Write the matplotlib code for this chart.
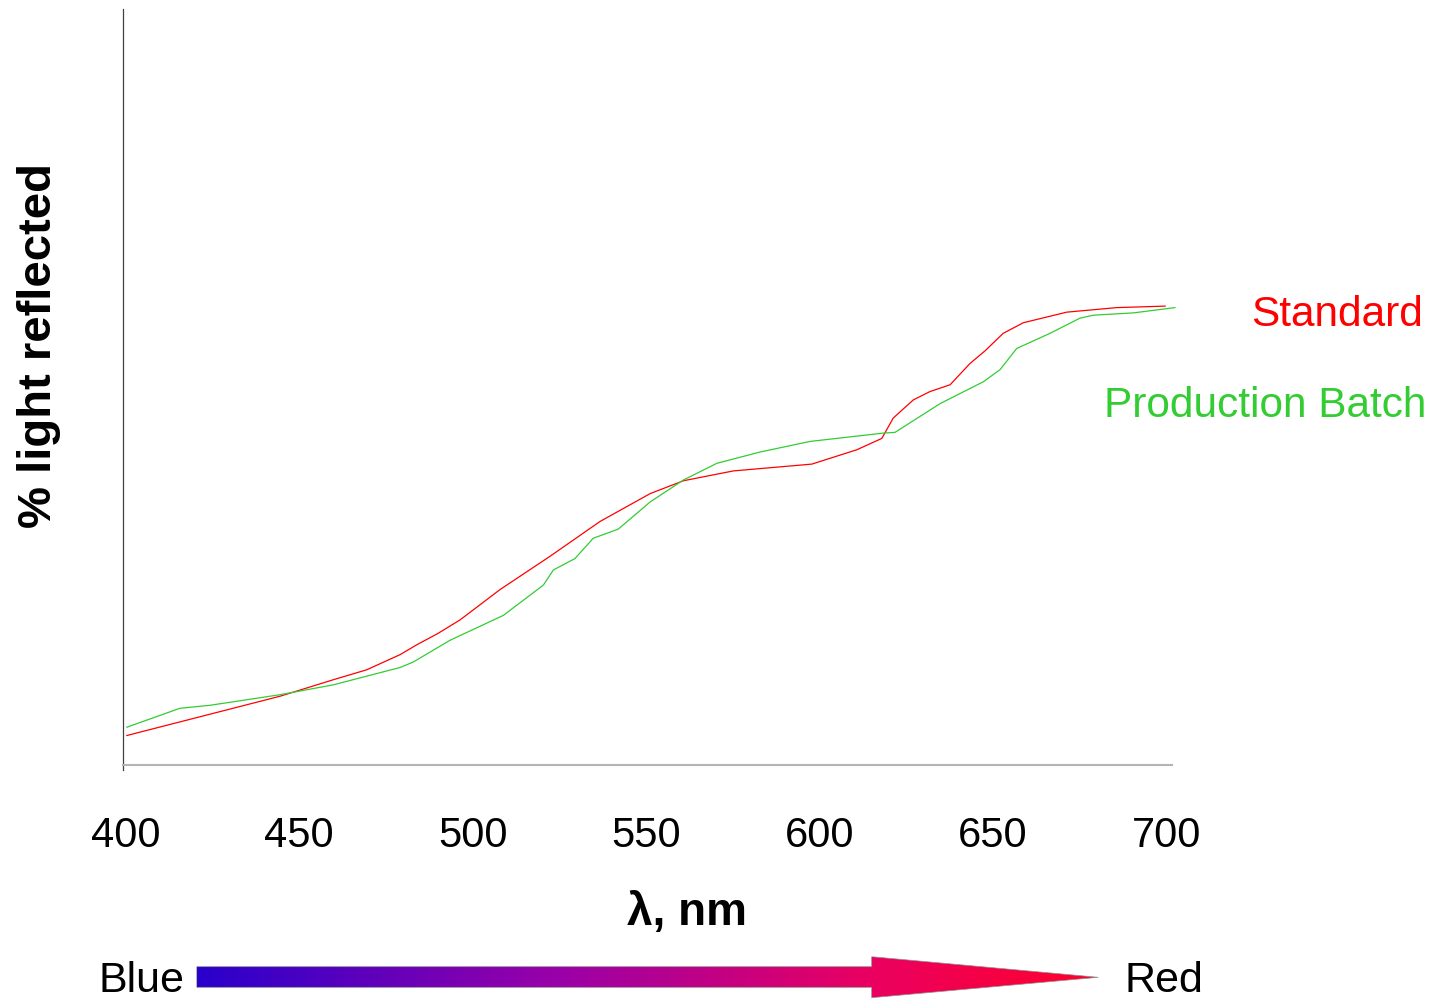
import matplotlib.pyplot as plt
import numpy as np
from matplotlib.patches import Polygon
from matplotlib.colors import LinearSegmentedColormap

plt.rcParams['font.family'] = ['Liberation Sans', 'DejaVu Sans']

# wavelength (nm) and reflectance (relative %)
std_nm = [400.3, 444.5, 460.0, 469.5, 479.1, 483.9, 490.0, 496.4, 507.9, 522.3, 536.7, 551.2,
          560.8, 575.2, 597.8, 610.8, 618.0, 621.3, 627.1, 631.9, 637.7, 643.4,
          647.8, 653.0, 658.8, 671.3, 685.7, 699.7]
std_val = [3.9, 9.1, 11.3, 12.6, 14.6, 15.9, 17.4, 19.2, 23.2, 27.6, 32.2, 35.9,
           37.6, 38.9, 39.8, 41.7, 43.2, 45.9, 48.3, 49.4, 50.3, 53.1,
           54.8, 57.1, 58.5, 59.9, 60.5, 60.7]

batch_nm = [400.3, 415.6, 424.3, 444.5, 459.8, 479.1, 482.8, 493.5, 508.9, 520.4,
            523.3, 529.5, 534.8, 542.0, 551.2, 560.8, 570.4, 582.9, 597.3, 618.4,
            621.8, 634.8, 647.3, 652.1, 656.9, 666.5, 675.1, 679.0, 690.5, 702.5]
batch_val = [5.0, 7.5, 7.9, 9.3, 10.6, 12.9, 13.6, 16.5, 19.8, 23.8,
             25.8, 27.3, 30.0, 31.2, 34.8, 37.7, 39.9, 41.4, 42.8, 43.9,
             44.0, 47.8, 50.7, 52.3, 55.1, 57.1, 59.1, 59.5, 59.8, 60.5]

ticks = [400, 450, 500, 550, 600, 650, 700]

W, H = 1434, 1001
fig = plt.figure(figsize=(W / 100, H / 100), dpi=100)

ax = fig.add_axes([123.3 / W, (H - 765) / H, (1172 - 123.3) / W, 756 / H])
ax.plot(std_nm, std_val, color='#ff0000', lw=0.9, clip_on=False)
ax.plot(batch_nm, batch_val, color='#33cc33', lw=0.9, clip_on=False)
ax.set_xlim(399.28, 701.67)
ax.set_ylim(0, 100)
ax.set_xticks(ticks)
ax.set_xticklabels([str(t) for t in ticks])
ax.set_yticks([])
ax.tick_params(axis='x', length=0, pad=36.5, labelsize=30)
ax.spines['top'].set_visible(False)
ax.spines['right'].set_visible(False)
ax.spines['left'].set_color('#404040')
ax.spines['left'].set_linewidth(0.9)
ax.spines['left'].set_bounds(-0.7, 100)
ax.spines['bottom'].set_color('#b4b4b4')
ax.spines['bottom'].set_linewidth(1.5)

# overlay in pixel coordinates for labels and the colour arrow
ov = fig.add_axes([0, 0, 1, 1])
ov.set_xlim(0, W)
ov.set_ylim(H, 0)
ov.axis('off')

ov.text(1423, 325.7, 'Standard', color='#ff0000', fontsize=30.5, ha='right', va='baseline')
ov.text(1426, 416.7, 'Production Batch', color='#33cc33', fontsize=30.5, ha='right', va='baseline')
ov.text(686.7, 925, 'λ, nm', fontsize=33, fontweight='bold', ha='center', va='baseline')
ov.text(39, 345, '% light reflected', fontsize=34, fontweight='bold', rotation=90,
        ha='center', va='center')
ov.text(185, 992, 'Blue', fontsize=31, ha='right', va='baseline')
ov.text(1125, 991.7, 'Red', fontsize=31, ha='left', va='baseline')

arrow = [(196.7, 966.7), (871.7, 966.7), (871.7, 956.7), (1098.3, 977.3),
         (871.7, 997.7), (871.7, 987.3), (196.7, 987.3)]
cmap = LinearSegmentedColormap.from_list('bluered', [
    (0.0, '#2a00cc'), (0.4, '#9a00a8'), (0.75, '#ea0060'), (1.0, '#ff002c')])
grad = np.linspace(0, 1, 256)[None, :]
im = ov.imshow(grad, cmap=cmap, extent=(196.7, 1098.3, 997.7, 956.7), aspect='auto',
               interpolation='bilinear')
poly = Polygon(arrow, closed=True, facecolor='none', edgecolor='#909090', lw=0.5)
ov.add_patch(poly)
im.set_clip_path(poly)
ov.set_xlim(0, W)
ov.set_ylim(H, 0)

fig.savefig('out.png', dpi=100)
